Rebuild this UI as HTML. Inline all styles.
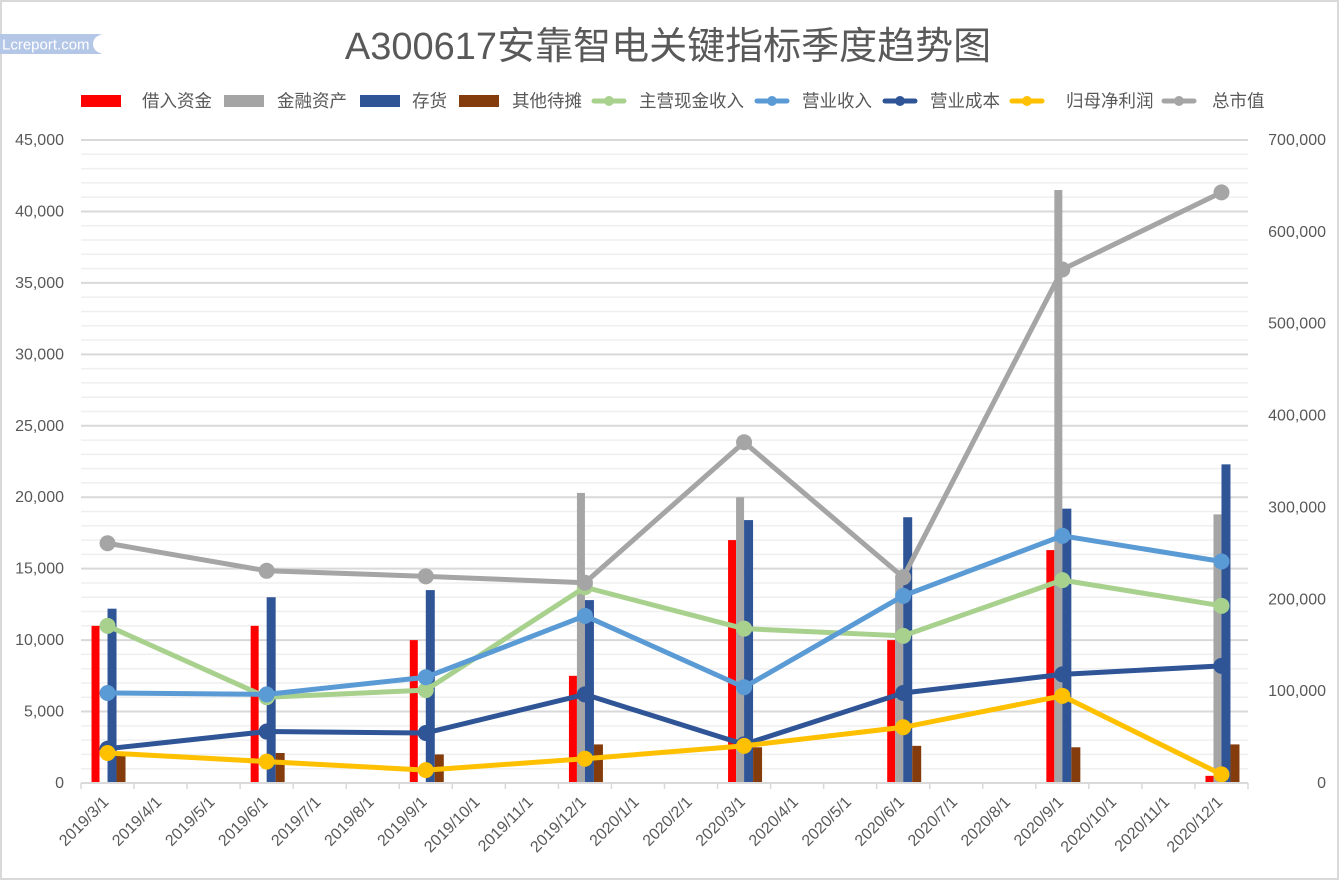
<!DOCTYPE html>
<html><head><meta charset="utf-8"><style>
body{margin:0;background:#fff;}
svg{display:block;font-family:"Liberation Sans","Noto Sans CJK SC",sans-serif;}
</style></head><body>
<svg id="c" width="1340" height="881">
<rect x="1" y="1" width="1337" height="878" fill="#fff" stroke="#d9d9d9" stroke-width="2"/>
<g>
<rect x="0" y="34" width="98" height="20" fill="#b4c7e7"/>
<circle cx="98" cy="44" r="10" fill="#b4c7e7"/><circle cx="102" cy="44" r="9" fill="#fff"/>
<text x="2" y="49.5" font-size="15" fill="#fff">Lcreport.com</text>
</g>
<text x="668" y="59" font-size="38" fill="#595959" text-anchor="middle">A300617安靠智电关键指标季度趋势图</text>
<g id="grid"></g><g id="bars"></g><g id="lines"></g><g id="axes"></g><g id="legend"></g>
</svg>
<script>
const months=["2019/3/1","2019/4/1","2019/5/1","2019/6/1","2019/7/1","2019/8/1","2019/9/1","2019/10/1","2019/11/1","2019/12/1","2020/1/1","2020/2/1","2020/3/1","2020/4/1","2020/5/1","2020/6/1","2020/7/1","2020/8/1","2020/9/1","2020/10/1","2020/11/1","2020/12/1"];
const quarters=["2019/3/1","2019/6/1","2019/9/1","2019/12/1","2020/3/1","2020/6/1","2020/9/1","2020/12/1"];
const borrow=[11000,11000,10000,7500,17000,10000,16300,500];
const finAsset=[0,0,0,20300,20000,14500,41500,18800];
const inventory=[12200,13000,13500,12800,18400,18600,19200,22300];
const prepaid=[2000,2100,2000,2700,2500,2600,2500,2700];
const cashIncome=[11000,6000,6500,13700,10800,10300,14200,12400];
const revenue=[6300,6200,7400,11700,6700,13100,17300,15500];
const cost=[2400,3600,3500,6200,2700,6300,7600,8200];
const netProfit=[2100,1500,900,1700,2600,3900,6100,600];
const marketCap=[261000,231000,225000,218000,371000,224000,559000,643000];
const leftTicks=["0","5,000","10,000","15,000","20,000","25,000","30,000","35,000","40,000","45,000"];
const rightTicks=["0","100,000","200,000","300,000","400,000","500,000","600,000","700,000"];

const X0=81,X1=1248,Y0=783,Y1=140,slot=(X1-X0)/months.length;
const yL=v=>Y0-(v/45000)*(Y0-Y1);
const yR=v=>Y0-(v/700000)*(Y0-Y1);
const xc=d=>X0+(months.indexOf(d)+0.5)*slot;
const NS="http://www.w3.org/2000/svg";
function mk(tag,attrs,parent){const e=document.createElementNS(NS,tag);for(const k in attrs)e.setAttribute(k,attrs[k]);parent.appendChild(e);return e;}
const grid=document.getElementById('grid'),bars=document.getElementById('bars'),lines=document.getElementById('lines'),axes=document.getElementById('axes'),legend=document.getElementById('legend');
for(let v=1000;v<=45000;v+=1000){
  const g=mk('line',{x1:X0,x2:X1,y1:yL(v),y2:yL(v),stroke:v%5000?'#efefef':'#d9d9d9','stroke-width':v%5000?1.5:2},grid);
  
  
}
leftTicks.forEach((t,i)=>{const e=mk('text',{x:64,y:yL(i*5000)+5,'font-size':16,fill:'#595959','text-anchor':'end'},axes);e.textContent=t;
  
  });
rightTicks.forEach((t,i)=>{const e=mk('text',{x:1326,y:yR(i*100000)+5,'font-size':16,fill:'#595959','text-anchor':'end'},axes);e.textContent=t;
  
  });
const ax=mk('line',{x1:X0,x2:X1,y1:Y0,y2:Y0,stroke:'#d9d9d9','stroke-width':2},axes);


for(let i=0;i<=months.length;i++){const t=mk('line',{x1:X0+i*slot,x2:X0+i*slot,y1:Y0,y2:Y0+6,stroke:'#d9d9d9','stroke-width':1.5},axes);
  
  }
months.forEach((m,i)=>{const x=X0+(i+0.5)*slot;const e=mk('text',{x:x+2,y:Y0+20,'font-size':16,fill:'#595959','text-anchor':'end',transform:`rotate(-45 ${x+2} ${Y0+20})`},axes);e.textContent=m;
  
  });
const barSeries=[[borrow,'#ff0000',-16,8,'bar-borrow'],[finAsset,'#a5a5a5',-8,8,'bar-financial-asset'],[inventory,'#2f5597',0,9,'bar-inventory'],[prepaid,'#843c0c',9,9,'bar-prepaid']];
barSeries.forEach(([arr,col,off,w,name])=>{arr.forEach((v,i)=>{const x=xc(quarters[i]);
  const r=mk('rect',{x:x+off,y:yL(v),width:w,height:Y0-yL(v),fill:col},bars);
  
  });});
const lineSeries=[[cashIncome,'#a9d18e',yL,'line-cash-income'],[revenue,'#5b9bd5',yL,'line-revenue'],[cost,'#2f5597',yL,'line-cost'],[netProfit,'#ffc000',yL,'line-net-profit'],[marketCap,'#a5a5a5',yR,'line-market-cap']];
lineSeries.forEach(([arr,col,fy,name])=>{const pts=arr.map((v,i)=>xc(quarters[i])+','+fy(v)).join(' ');
  const p=mk('polyline',{points:pts,fill:'none',stroke:col,'stroke-width':5,'stroke-linejoin':'round'},lines);
  
  
  arr.forEach((v,i)=>{const c=mk('circle',{cx:xc(quarters[i]),cy:fy(v),r:8,fill:col},lines);
    
    });});
const legItems=[['bar','#ff0000',81,142,'借入资金'],['bar','#a5a5a5',224,277,'金融资产'],['bar','#2f5597',360,412,'存货'],['bar','#843c0c',459,512,'其他待摊'],['line','#a9d18e',594,639,'主营现金收入'],['line','#5b9bd5',757,802,'营业收入'],['line','#2f5597',885,930,'营业成本'],['line','#ffc000',1012,1066,'归母净利润'],['line','#a5a5a5',1164,1212,'总市值']];
legItems.forEach(([t,col,x,tx,label])=>{const g=mk('g',{},legend);
  
  
  if(t==='bar'){mk('rect',{x:x,y:95,width:40,height:12,fill:col},g);}
  else{mk('line',{x1:x,x2:x+30,y1:101,y2:101,stroke:col,'stroke-width':5,'stroke-linecap':'round'},g);mk('circle',{cx:x+15,cy:101,r:5,fill:col},g);}
  const e=mk('text',{x:tx,y:107,'font-size':17.5,fill:'#595959'},g);e.textContent=label;});
</script>
</body></html>
